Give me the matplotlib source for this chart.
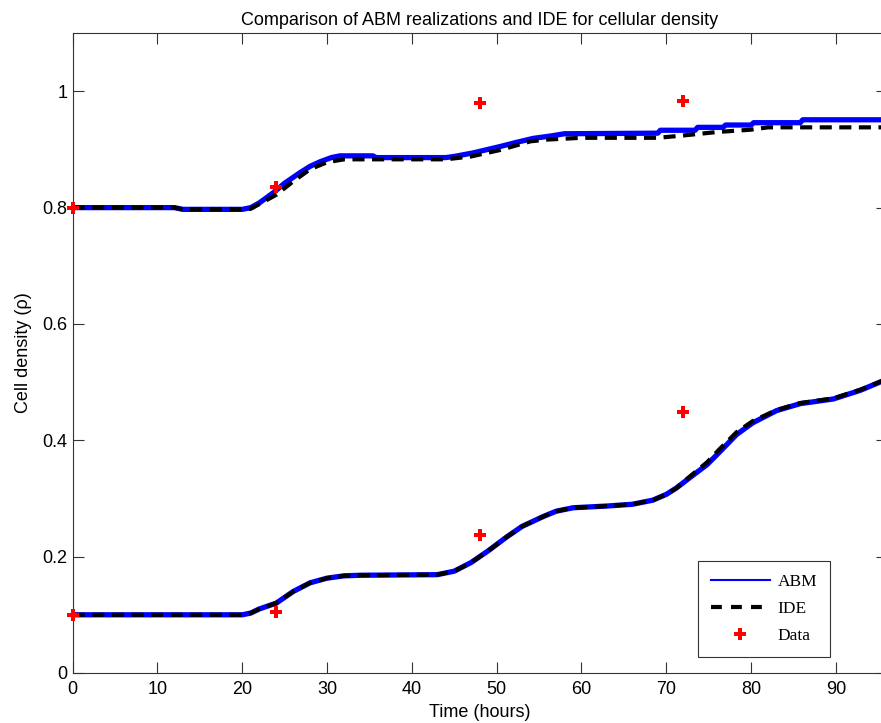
import numpy as np
import matplotlib
matplotlib.use("Agg")
import matplotlib.pyplot as plt
from matplotlib.lines import Line2D

# measured densities (red crosses)
data_t = [0, 24, 48, 72]
data_high = [0.800, 0.836, 0.980, 0.984]
data_low = [0.100, 0.105, 0.237, 0.448]

# upper run, ABM average
abm_hi_t = [0, 12, 13, 20, 21, 22, 23.6, 25, 26.8, 28, 29.2, 30.5, 31.5, 35.4, 35.8, 44,
            45, 47.2, 50.4, 52, 54.3, 56.3, 58, 69, 69.3, 73.4, 73.7, 76.7, 77, 80, 80.3,
            85.8, 86.1, 96]
abm_hi = [0.800, 0.800, 0.797, 0.797, 0.800, 0.808, 0.825, 0.842, 0.860, 0.871, 0.879,
          0.886, 0.889, 0.889, 0.886, 0.886, 0.888, 0.894, 0.905, 0.911, 0.919, 0.923,
          0.927, 0.928, 0.933, 0.933, 0.938, 0.938, 0.942, 0.942, 0.946, 0.946, 0.951,
          0.951]

# upper run, IDE solution
ide_hi_t = [0, 12, 13, 20, 21, 22, 24, 26, 28, 30, 32, 44, 47, 50.4, 54, 56, 60, 69, 72,
            76, 80, 82, 96]
ide_hi = [0.800, 0.800, 0.797, 0.797, 0.798, 0.806, 0.822, 0.845, 0.866, 0.878, 0.883,
          0.883, 0.888, 0.899, 0.914, 0.917, 0.920, 0.920, 0.924, 0.930, 0.934, 0.938,
          0.938]

# lower run
low_t = [0, 20, 21, 22, 24, 26, 28, 30, 32, 34, 43, 45, 47, 49, 51.2, 53, 55.5, 57, 59,
         63, 66, 68.4, 70, 71.2, 72.8, 74.8, 76.3, 78.3, 80.2, 83, 85.8, 89.7, 92.9, 96]
abm_low = [0.100, 0.100, 0.103, 0.110, 0.120, 0.140, 0.155, 0.163, 0.167, 0.168, 0.169,
           0.175, 0.190, 0.210, 0.234, 0.252, 0.269, 0.278, 0.284, 0.287, 0.290, 0.297,
           0.307, 0.318, 0.336, 0.358, 0.380, 0.410, 0.430, 0.451, 0.463, 0.471, 0.486,
           0.505]
ide_low = [0.100, 0.100, 0.103, 0.110, 0.120, 0.140, 0.155, 0.163, 0.167, 0.168, 0.169,
           0.175, 0.190, 0.210, 0.234, 0.252, 0.269, 0.278, 0.284, 0.287, 0.290, 0.297,
           0.307, 0.318, 0.338, 0.362, 0.385, 0.414, 0.433, 0.452, 0.464, 0.472, 0.487,
           0.505]

plt.rcParams["font.family"] = ["Liberation Sans", "DejaVu Sans"]

fig = plt.figure(figsize=(8.81, 7.23), dpi=100)
ax = fig.add_axes([0.0825, 0.0692, 0.924, 0.885])

ax.plot(abm_hi_t, abm_hi, color="blue", lw=3.8)
ax.plot(low_t, abm_low, color="blue", lw=3.8)
ax.plot(ide_hi_t, ide_hi, color="black", lw=3, dashes=(2.9, 1.8))
ax.plot(low_t, ide_low, color="black", lw=3, dashes=(2.9, 1.8))
ax.plot(data_t, data_high, "P", color="red", ms=9, mew=0, clip_on=False, zorder=5)
ax.plot(data_t, data_low, "P", color="red", ms=9, mew=0, clip_on=False, zorder=5)

ax.set_xlim(0, 96)
ax.set_ylim(0, 1.1)
ax.set_xticks(np.arange(0, 100, 10))
ax.set_yticks([0, 0.2, 0.4, 0.6, 0.8, 1])
ax.set_yticklabels(["0", "0.2", "0.4", "0.6", "0.8", "1"])
ax.tick_params(direction="in", length=8, width=0.8, top=True, right=True,
               labelsize=13, color="#333333", pad=4)
ax.tick_params(axis="x", pad=6)
for s in ax.spines.values():
    s.set_color("#333333")
    s.set_linewidth(0.8)

ax.set_title("Comparison of ABM realizations and IDE for cellular density",
             fontsize=13, pad=6)
ax.set_xlabel("Time (hours)", fontsize=13, labelpad=4)
ax.set_ylabel("Cell density (\u03c1)", fontsize=13, labelpad=7)

handles = [Line2D([], [], color="blue", lw=1.5),
           Line2D([], [], color="black", lw=3, dashes=(2.6, 2.2)),
           Line2D([], [], color="red", marker="P", ls="none", ms=9, mew=0)]
leg = ax.legend(handles, ["ABM", "IDE", "Data"], loc="lower left",
                bbox_to_anchor=(0.768, 0.025), borderaxespad=0, fancybox=False,
                framealpha=1, edgecolor="#333333", handlelength=3.4,
                handletextpad=0.45, borderpad=0.75, labelspacing=0.62,
                prop={"family": "Liberation Serif", "size": 12.5})
leg.get_frame().set_linewidth(0.8)

fig.savefig("out.png", dpi=100)
